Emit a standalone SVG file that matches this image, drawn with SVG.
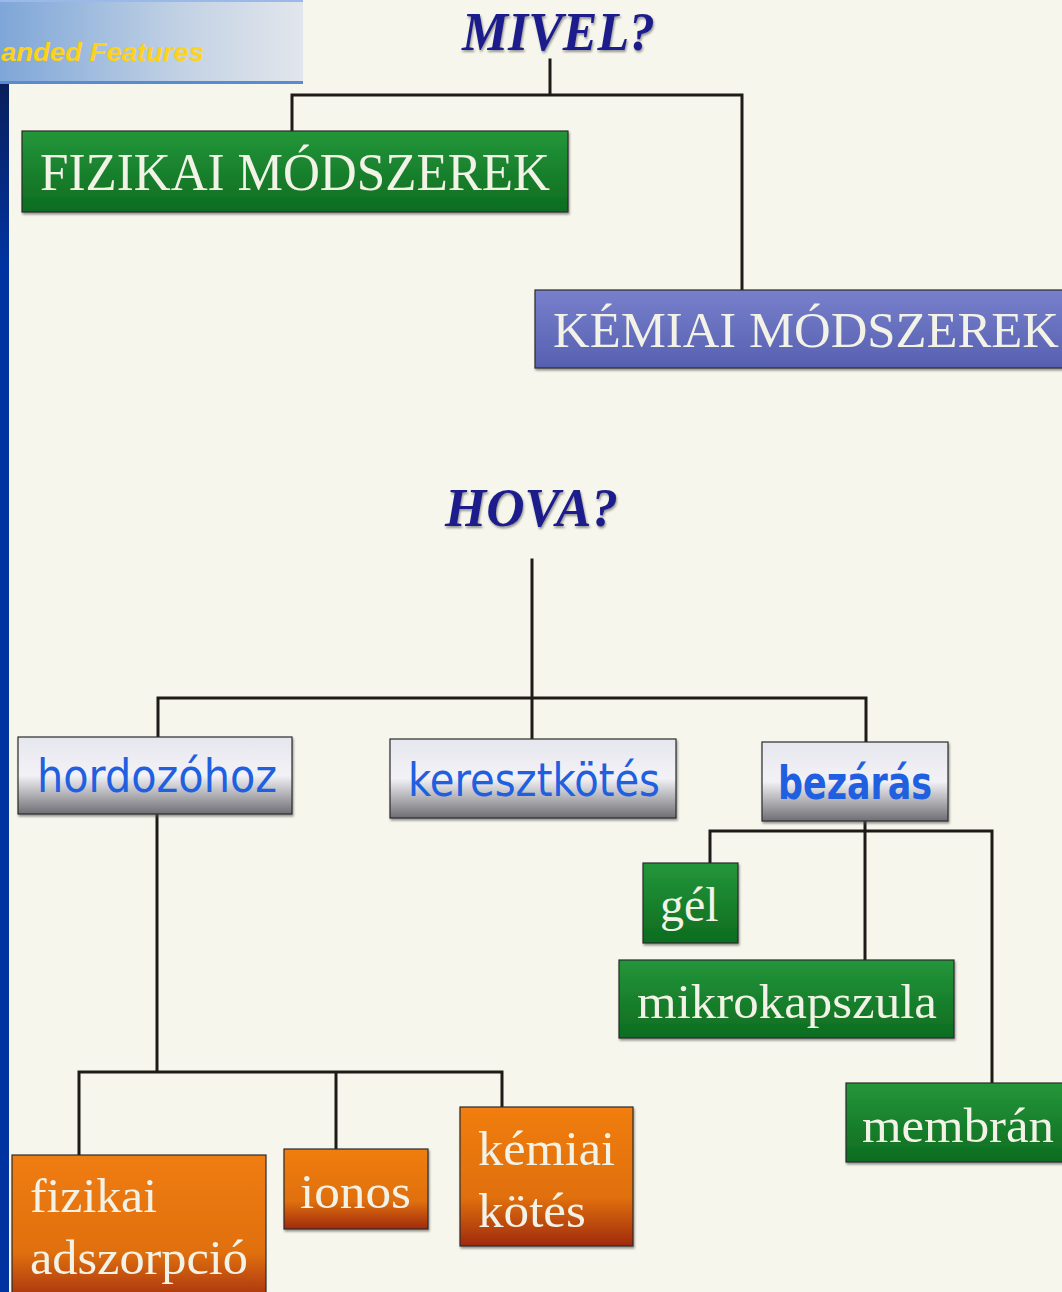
<svg xmlns="http://www.w3.org/2000/svg" width="1062" height="1292" viewBox="0 0 1062 1292">
<defs>
<linearGradient id="banner" x1="0" y1="0" x2="1" y2="0"><stop offset="0" stop-color="#7ea6d8"/><stop offset="0.6" stop-color="#c2d2e4"/><stop offset="1" stop-color="#e2e6ec"/></linearGradient>
<linearGradient id="bar" x1="0" y1="0" x2="0" y2="1"><stop offset="0" stop-color="#0a1f5c"/><stop offset="0.15" stop-color="#0033a0"/><stop offset="1" stop-color="#0033a0"/></linearGradient>
<linearGradient id="green" x1="0" y1="0" x2="0" y2="1"><stop offset="0" stop-color="#24963a"/><stop offset="1" stop-color="#0d6c20"/></linearGradient>
<linearGradient id="violet" x1="0" y1="0" x2="0" y2="1"><stop offset="0" stop-color="#7880cc"/><stop offset="1" stop-color="#5660b0"/></linearGradient>
<linearGradient id="gray" x1="0" y1="0" x2="0" y2="1"><stop offset="0" stop-color="#e6e6ee"/><stop offset="0.5" stop-color="#f2f2f6"/><stop offset="1" stop-color="#6e6e74"/></linearGradient>
<linearGradient id="orange" x1="0" y1="0" x2="0" y2="1"><stop offset="0" stop-color="#f07d12"/><stop offset="0.65" stop-color="#e0700e"/><stop offset="1" stop-color="#a02a10"/></linearGradient>
<filter id="sh" x="-5%" y="-5%" width="110%" height="120%"><feDropShadow dx="1" dy="2" stdDeviation="1" flood-color="#555" flood-opacity="0.6"/></filter>
</defs>
<style>
.box{stroke:#2a2a2a;stroke-width:1.2}
.w{font-family:"Liberation Serif",serif;fill:#f2f2e6}
.b{font-family:"DejaVu Sans","Noto Sans",sans-serif;fill:#2060e0;font-size:46px}
.q{font-family:"Liberation Serif",serif;font-weight:bold;font-style:italic;fill:#1c1c8c;font-size:54px}
.c{stroke:#1e1a18;stroke-width:3;fill:none;stroke-linecap:square}
</style>
<rect width="1062" height="1292" fill="#f6f6ec"/>
<rect x="0" y="84" width="9" height="1208" fill="url(#bar)"/>
<rect x="0" y="0" width="303" height="84" fill="url(#banner)"/>
<rect x="0" y="0" width="303" height="2" fill="#9ab8e8"/>
<rect x="0" y="81" width="303" height="3" fill="#5a8ad0"/>
<text x="1" y="61" font-family="Liberation Sans,sans-serif" font-weight="bold" font-style="italic" font-size="26" fill="#ffd21a" textLength="203" lengthAdjust="spacingAndGlyphs">anded Features</text>

<g id="connectors">
<path class="c" d="M550 60V95M292 95H742M292 95V130M742 95V290"/>
<path class="c" d="M532 560V698M158 698H866M158 698V737M532 698V739M866 698V742"/>
<path class="c" d="M157 814V1072M79 1072H502M79 1072V1155M336 1072V1149M502 1072V1107"/>
<path class="c" d="M865 821V960M710 831H992M710 831V863M992 831V1083"/>
</g>

<g id="mivel"><text class="q" x="462" y="50" textLength="193" lengthAdjust="spacingAndGlyphs" filter="url(#sh)">MIVEL?</text></g>
<g id="hova"><text class="q" x="445" y="526" textLength="173" lengthAdjust="spacingAndGlyphs" filter="url(#sh)">HOVA?</text></g>

<g id="fizikai-modszerek"><rect class="box" x="22" y="131" width="546" height="81" fill="url(#green)" filter="url(#sh)"/><text class="w" x="40" y="190" font-size="52" textLength="510" lengthAdjust="spacingAndGlyphs">FIZIKAI MÓDSZEREK</text></g>
<g id="kemiai-modszerek"><rect class="box" x="535" y="290" width="540" height="78" fill="url(#violet)" filter="url(#sh)"/><text class="w" x="553" y="347" font-size="50" textLength="506" lengthAdjust="spacingAndGlyphs">KÉMIAI MÓDSZEREK</text></g>

<g id="hordozohoz"><rect class="box" x="18" y="737" width="274" height="77" fill="url(#gray)" filter="url(#sh)"/><text class="b" x="37" y="792" textLength="240" lengthAdjust="spacingAndGlyphs">hordozóhoz</text></g>
<g id="keresztkotes"><rect class="box" x="390" y="739" width="286" height="79" fill="url(#gray)" filter="url(#sh)"/><text class="b" x="408" y="796" textLength="252" lengthAdjust="spacingAndGlyphs">keresztkötés</text></g>
<g id="bezaras"><rect class="box" x="762" y="742" width="186" height="79" fill="url(#gray)" filter="url(#sh)"/><text class="b" x="778" y="799" font-weight="bold" textLength="154" lengthAdjust="spacingAndGlyphs">bezárás</text></g>

<g id="gel"><rect class="box" x="643" y="863" width="95" height="80" fill="url(#green)" filter="url(#sh)"/><text class="w" x="660" y="921" font-size="48">gél</text></g>
<g id="mikrokapszula"><rect class="box" x="619" y="960" width="335" height="78" fill="url(#green)" filter="url(#sh)"/><text class="w" x="637" y="1018" font-size="48" textLength="300" lengthAdjust="spacingAndGlyphs">mikrokapszula</text></g>
<g id="membran"><rect class="box" x="846" y="1083" width="230" height="79" fill="url(#green)" filter="url(#sh)"/><text class="w" x="862" y="1142" font-size="48" textLength="192" lengthAdjust="spacingAndGlyphs">membrán</text></g>

<g id="fizikai-adszorpcio"><rect class="box" x="12" y="1155" width="254" height="150" fill="url(#orange)"/><text class="w" x="30" y="1212" font-size="48" textLength="127" lengthAdjust="spacingAndGlyphs">fizikai</text><text class="w" x="30" y="1274" font-size="48" textLength="218" lengthAdjust="spacingAndGlyphs">adszorpció</text></g>
<g id="ionos"><rect class="box" x="284" y="1149" width="144" height="80" fill="url(#orange)" filter="url(#sh)"/><text class="w" x="300" y="1208" font-size="48" textLength="111" lengthAdjust="spacingAndGlyphs">ionos</text></g>
<g id="kemiai-kotes"><rect class="box" x="460" y="1107" width="173" height="139" fill="url(#orange)" filter="url(#sh)"/><text class="w" x="478" y="1165" font-size="48" textLength="137" lengthAdjust="spacingAndGlyphs">kémiai</text><text class="w" x="478" y="1227" font-size="48" textLength="108" lengthAdjust="spacingAndGlyphs">kötés</text></g>
</svg>
